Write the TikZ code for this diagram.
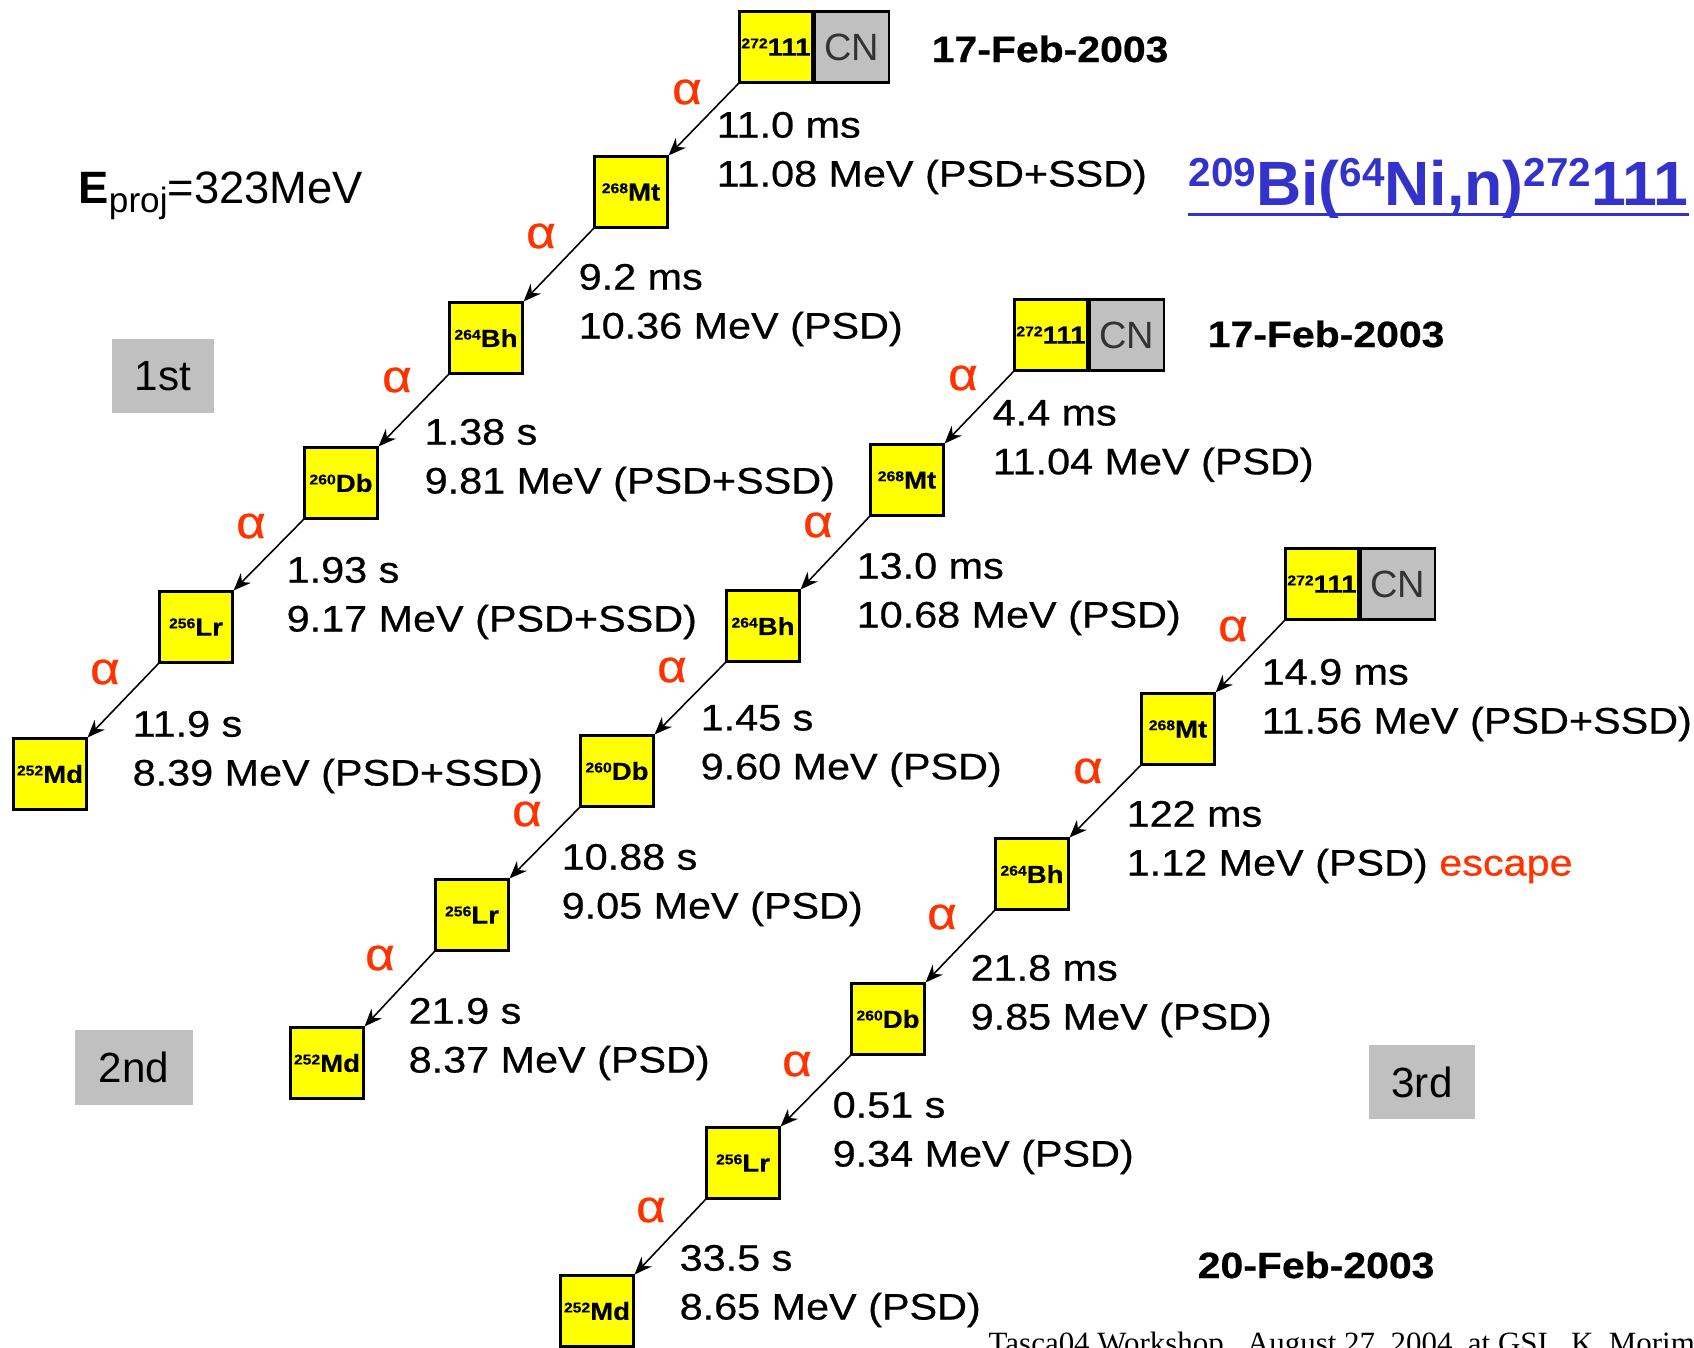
\documentclass[tikz,border=0pt]{standalone}
\usepackage{fontspec}
\setmainfont{Liberation Sans}
\newfontfamily\lblfont{Liberation Sans}[FakeStretch=1.12,FakeBold=0.6]
\newfontfamily\footfont{Liberation Serif}
\usetikzlibrary{arrows.meta,positioning}
\definecolor{nucyellow}{RGB}{255,255,0}
\definecolor{cngray}{RGB}{192,192,192}
\definecolor{alphared}{RGB}{255,51,0}
\definecolor{titleblue}{RGB}{51,51,204}
\newcommand{\iso}[2]{\raisebox{2.1pt}{\fontsize{4}{4}\selectfont #1}#2}
\newcommand{\tsup}[1]{\raisebox{5.4pt}{\fontsize{11.5}{11.5}\selectfont #1}}
\begin{document}
\begin{tikzpicture}[x=0.01cm,y=-0.01cm,>={Stealth[length=5pt,width=4pt]},
    nbox/.style={draw,line width=0.6pt,fill=nucyellow,minimum width=0.73cm,minimum height=0.71cm,inner sep=0pt,font=\lblfont\bfseries\fontsize{7}{7}\selectfont},
    cnbox/.style={draw,line width=0.6pt,fill=cngray,minimum width=0.74cm,minimum height=0.71cm,inner sep=0pt,text=black!80,font=\fontsize{10.8}{11}\selectfont},
    alph/.style={text=alphared,inner sep=0pt,font=\lblfont\fontsize{13}{13}\selectfont},
    lbl/.style={anchor=west,align=left,inner sep=0pt,font=\lblfont\fontsize{10.5}{13.9}\selectfont},
    datelbl/.style={anchor=base west,inner sep=0pt,font=\lblfont\bfseries\fontsize{10.4}{12}\selectfont},
    tag/.style={fill=cngray,inner sep=0pt,font=\fontsize{12}{14}\selectfont},
    decay/.style={->,line width=0.45pt}]
    \path[use as bounding box,fill=white] (0,0) rectangle (1694,1347);

    \node[anchor=base west,inner sep=0pt,font=\fontsize{12.9}{14}\selectfont] (eproj) at (78,203) {\textbf{E}\raisebox{-2.6pt}{\fontsize{10}{10}\selectfont proj}=323MeV};
    \node[anchor=base west,inner sep=0pt,text=titleblue,font=\bfseries\fontsize{17.8}{20}\selectfont] (title) at (1188,205) {\tsup{209}Bi(\tsup{64}Ni,n)\tsup{272}111};
    \draw[titleblue,line width=0.85pt] ([shift={(0,9)}]title.base west) -- ([shift={(0,9)}]title.base east);

    \node[nbox] (a111) at (776,47) {\iso{272}{111}};
    \node[cnbox,right=0pt of a111] (aCN) {CN};
    \node[nbox] (aMt) at (631,192) {\iso{268}{Mt}};
    \node[nbox] (aBh) at (486,338) {\iso{264}{Bh}};
    \node[nbox] (aDb) at (341,483) {\iso{260}{Db}};
    \node[nbox] (aLr) at (196,627) {\iso{256}{Lr}};
    \node[nbox] (aMd) at (50,774) {\iso{252}{Md}};
    \draw[decay] (a111.south west) -- (aMt.north east);
    \draw[decay] (aMt.south west) -- (aBh.north east);
    \draw[decay] (aBh.south west) -- (aDb.north east);
    \draw[decay] (aDb.south west) -- (aLr.north east);
    \draw[decay] (aLr.south west) -- (aMd.north east);
    \node[alph] (alA1) at (687,92) {α};
    \node[alph] (alA2) at (541,236) {α};
    \node[alph] (alA3) at (397,380) {α};
    \node[alph] (alA4) at (251,526) {α};
    \node[alph] (alA5) at (105,672) {α};
    \node[lbl] (tA1) at (716,153) {11.0 ms\\11.08 MeV (PSD+SSD)};
    \node[lbl] (tA2) at (578,305) {9.2 ms\\10.36 MeV (PSD)};
    \node[lbl] (tA3) at (424,460) {1.38 s\\9.81 MeV (PSD+SSD)};
    \node[lbl] (tA4) at (286,598) {1.93 s\\9.17 MeV (PSD+SSD)};
    \node[lbl] (tA5) at (132,752) {11.9 s\\8.39 MeV (PSD+SSD)};
    \node[datelbl] (dA) at (931,62) {17-Feb-2003};
    \node[tag,minimum width=1.02cm,minimum height=0.74cm] (first) at (163,376) {1st};

    \node[nbox] (b111) at (1051,335) {\iso{272}{111}};
    \node[cnbox,right=0pt of b111] (bCN) {CN};
    \node[nbox] (bMt) at (907,480) {\iso{268}{Mt}};
    \node[nbox] (bBh) at (763,626) {\iso{264}{Bh}};
    \node[nbox] (bDb) at (617,771) {\iso{260}{Db}};
    \node[nbox] (bLr) at (472,915) {\iso{256}{Lr}};
    \node[nbox] (bMd) at (327,1063) {\iso{252}{Md}};
    \draw[decay] (b111.south west) -- (bMt.north east);
    \draw[decay] (bMt.south west) -- (bBh.north east);
    \draw[decay] (bBh.south west) -- (bDb.north east);
    \draw[decay] (bDb.south west) -- (bLr.north east);
    \draw[decay] (bLr.south west) -- (bMd.north east);
    \node[alph] (alB1) at (963,378) {α};
    \node[alph] (alB2) at (818,525) {α};
    \node[alph] (alB3) at (672,670) {α};
    \node[alph] (alB4) at (527,814) {α};
    \node[alph] (alB5) at (380,958) {α};
    \node[lbl] (tB1) at (992,441) {4.4 ms\\11.04 MeV (PSD)};
    \node[lbl] (tB2) at (856,594) {13.0 ms\\10.68 MeV (PSD)};
    \node[lbl] (tB3) at (700,746) {1.45 s\\9.60 MeV (PSD)};
    \node[lbl] (tB4) at (561,885) {10.88 s\\9.05 MeV (PSD)};
    \node[lbl] (tB5) at (408,1039) {21.9 s\\8.37 MeV (PSD)};
    \node[datelbl] (dB) at (1207,347) {17-Feb-2003};
    \node[tag,minimum width=1.17cm,minimum height=0.75cm] (second) at (134,1067) {2nd};

    \node[nbox] (c111) at (1322,584) {\iso{272}{111}};
    \node[cnbox,right=0pt of c111] (cCN) {CN};
    \node[nbox] (cMt) at (1178,729) {\iso{268}{Mt}};
    \node[nbox] (cBh) at (1032,874) {\iso{264}{Bh}};
    \node[nbox] (cDb) at (888,1019) {\iso{260}{Db}};
    \node[nbox] (cLr) at (743,1163) {\iso{256}{Lr}};
    \node[nbox] (cMd) at (597,1311) {\iso{252}{Md}};
    \draw[decay] (c111.south west) -- (cMt.north east);
    \draw[decay] (cMt.south west) -- (cBh.north east);
    \draw[decay] (cBh.south west) -- (cDb.north east);
    \draw[decay] (cDb.south west) -- (cLr.north east);
    \draw[decay] (cLr.south west) -- (cMd.north east);
    \node[alph] (alC1) at (1233,629) {α};
    \node[alph] (alC2) at (1088,771) {α};
    \node[alph] (alC3) at (942,917) {α};
    \node[alph] (alC4) at (797,1064) {α};
    \node[alph] (alC5) at (651,1210) {α};
    \node[lbl] (tC1) at (1261,700) {14.9 ms\\11.56 MeV (PSD+SSD)};
    \node[lbl] (tC2) at (1126,842) {122 ms\\1.12 MeV (PSD) \textcolor{alphared}{escape}};
    \node[lbl] (tC3) at (970,996) {21.8 ms\\9.85 MeV (PSD)};
    \node[lbl] (tC4) at (832,1133) {0.51 s\\9.34 MeV (PSD)};
    \node[lbl] (tC5) at (679,1286) {33.5 s\\8.65 MeV (PSD)};
    \node[datelbl] (dC) at (1197,1278) {20-Feb-2003};
    \node[tag,minimum width=1.06cm,minimum height=0.74cm] (third) at (1422,1082) {3rd};

    \node[anchor=base west,inner sep=0pt,font=\footfont\fontsize{8.8}{10}\selectfont] (foot) at (988,1353) {Tasca04 Workshop,\ \ August 27, 2004,\ at GSI,\ \ K. Morimoto};
\end{tikzpicture}
\end{document}
